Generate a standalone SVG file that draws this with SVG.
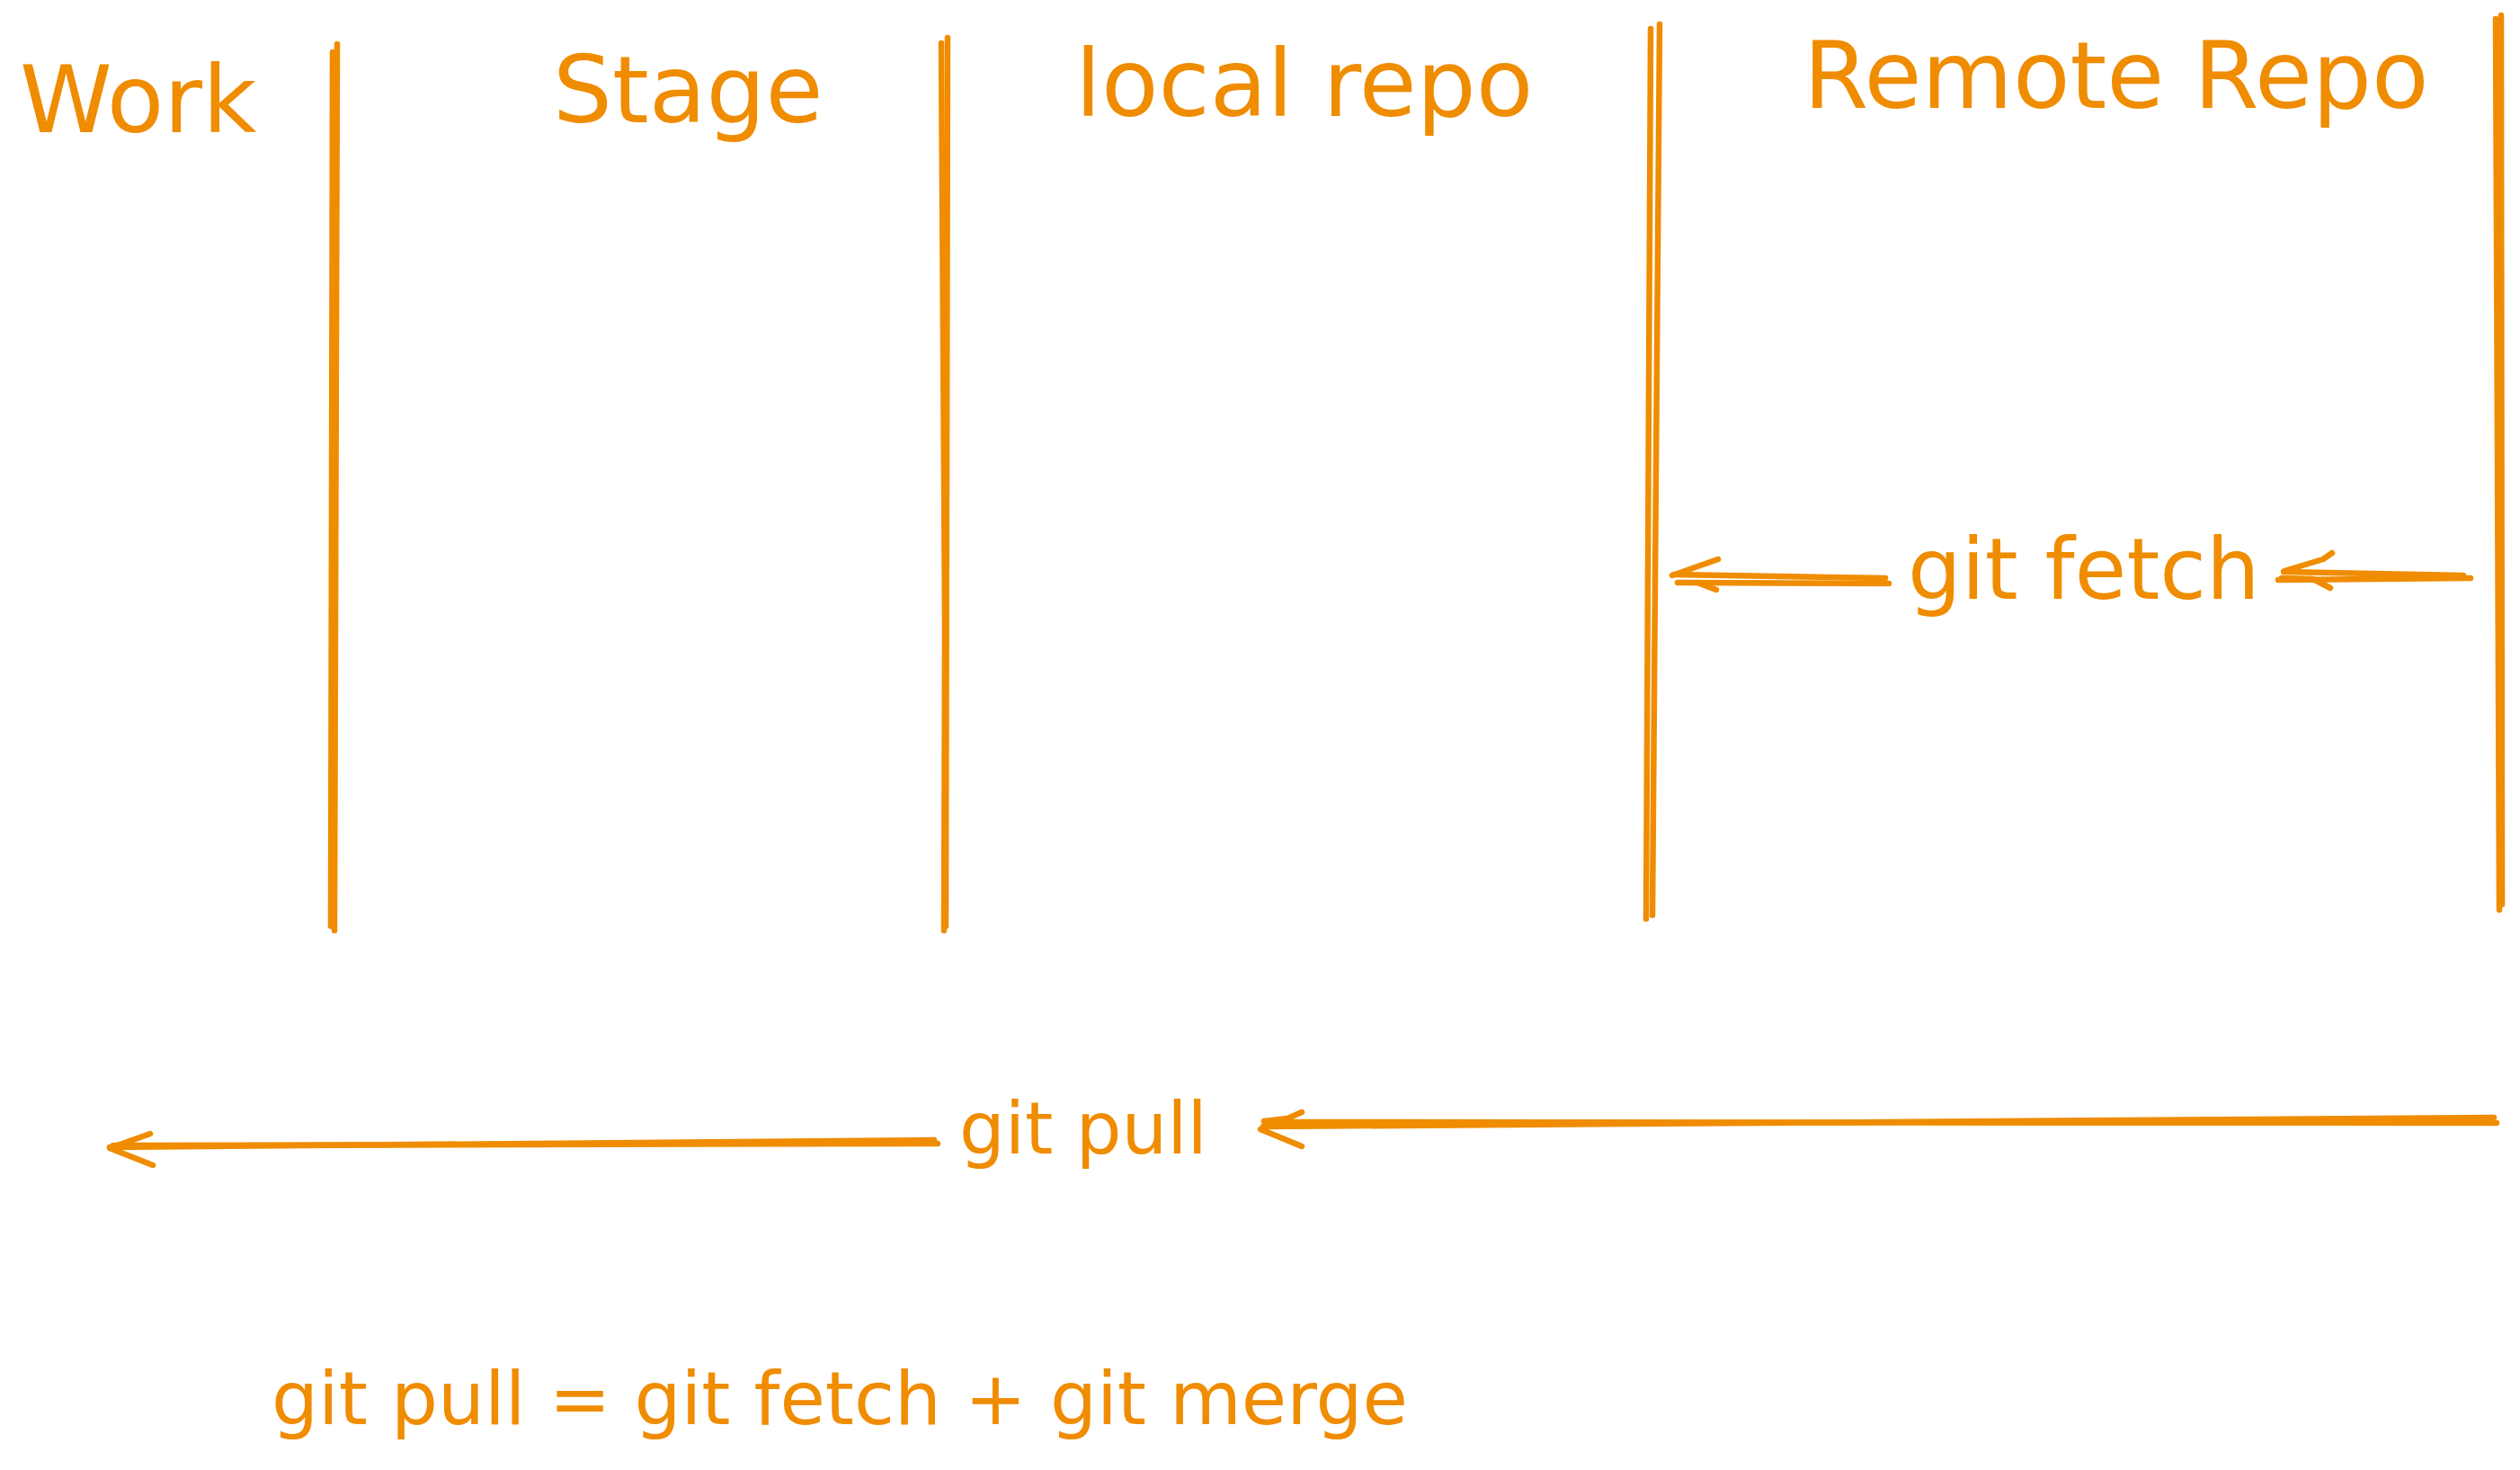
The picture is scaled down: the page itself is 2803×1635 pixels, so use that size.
<svg xmlns="http://www.w3.org/2000/svg" width="2803" height="1635" viewBox="0 0 2803 1635">
<style>
.t{font-family:"DejaVu Sans",Verdana,sans-serif;fill:#f08c00}
.s{fill:none;stroke:#f08c00;stroke-width:6.5;stroke-linecap:round;stroke-linejoin:round}
</style>
<rect width="2803" height="1635" fill="#ffffff"/>
<g id="labels">
<g id="work"><text class="t" x="22" y="147" font-size="104">Work</text></g>
<g id="stage"><text class="t" x="615" y="136" font-size="104">Stage</text></g>
<g id="local-repo"><text class="t" x="1196" y="129" font-size="104">local repo</text></g>
<g id="remote-repo"><text class="t" x="2006" y="120" font-size="104">Remote Repo</text></g>
<g id="git-fetch"><text class="t" x="2122" y="666" font-size="94">git fetch</text></g>
<g id="git-pull"><text class="t" x="1067" y="1283" font-size="80">git pull</text></g>
<g id="formula"><text class="t" x="302" y="1584" font-size="82">git pull = git fetch + git merge</text></g>
</g>
<g id="dividers">
<path class="s" d="M370 58 L368 1030"/>
<path class="s" d="M375 49 L372 1035"/>
<path class="s" d="M1047 48 L1051 700 L1050 1035"/>
<path class="s" d="M1054 42 L1052 1030"/>
<path class="s" d="M1836 32 L1831 1022"/>
<path class="s" d="M1846 27 L1838 1018"/>
<path class="s" d="M2776 21 L2780 1012"/>
<path class="s" d="M2782 17 L2783 1006"/>
</g>
<g id="connectors">
<path class="s" d="M2097 643 L1862 639"/>
<path class="s" d="M2101 649 L1866 648"/>
<path class="s" d="M1911 622 L1860 640 M1909 656 L1888 648"/>
<path class="s" d="M2740 640 L2540 636"/>
<path class="s" d="M2748 643 L2534 645"/>
<path class="s" d="M2594 615 L2584 622 L2541 635 M2592 654 L2573 644 L2538 643"/>
<path class="s" d="M1039 1268 L122 1276"/>
<path class="s" d="M1043 1272 L126 1274"/>
<path class="s" d="M167 1261 L122 1277 L170 1296"/>
<path class="s" d="M2774 1243 L1405 1253"/>
<path class="s" d="M2777 1249 L1408 1248"/>
<path class="s" d="M1448 1237 L1432 1244 L1406 1247 M1448 1275 L1402 1256"/>
</g>
</svg>
